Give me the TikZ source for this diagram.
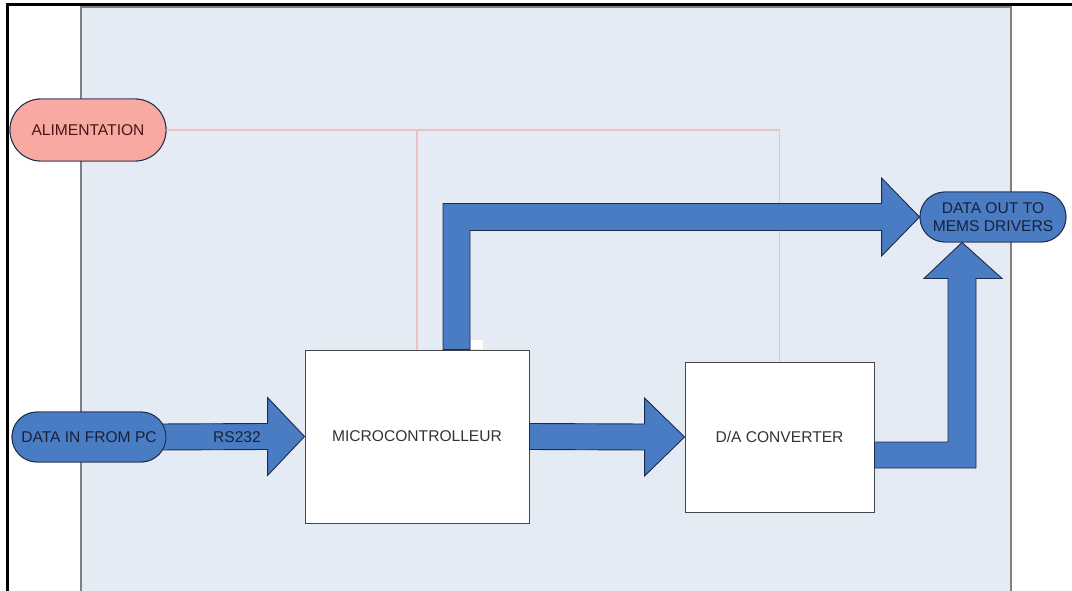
\documentclass[tikz,border=0pt]{standalone}
\usepackage{fontspec}
\setmainfont{Liberation Sans}
\usetikzlibrary{shapes.misc,calc}
\definecolor{panelfill}{HTML}{E5EBF5}
\definecolor{panelline}{HTML}{808080}
\definecolor{blockblue}{HTML}{4A7CC3}
\definecolor{blockline}{HTML}{1C2B4A}
\definecolor{pinkfill}{HTML}{F8A9A2}
\definecolor{pinkline}{HTML}{EDC0C6}
\definecolor{txt}{HTML}{333333}
\definecolor{alimtxt}{HTML}{4A1515}
\definecolor{bluetxt}{HTML}{17223A}
\begin{document}
\begin{tikzpicture}[x=1pt,y=-1pt,
  lbl/.style={font=\fontsize{15.6}{18.5}\selectfont, text=txt},
  pill/.style={rounded rectangle, draw=blockline, line width=0.9pt, inner sep=0pt,
    font=\fontsize{15.6}{18.5}\selectfont, align=center},
  box/.style={draw=txt!90, line width=0.9pt, fill=white, inner sep=0pt,
    font=\fontsize{15.6}{18.5}\selectfont, text=txt},
  blockarrow/.style={fill=blockblue, draw=blockline, line width=0.9pt, line join=miter},
  feed/.style={draw=pinkline, line width=1.3pt}]
\clip (0,0) rectangle (1072,591);
\fill[white] (0,0) rectangle (1072,591);
% frame and panel
\draw[panelline, fill=panelfill, line width=1.6pt] (81,7) rectangle (1011,640);
\draw[black, line width=3pt] (7.5,600) -- (7.5,5) -- (1080,5);
% blocks
\node[box, minimum width=224pt, minimum height=173pt] (micro) at (417,436.5) {MICROCONTROLLEUR};
\node[box, minimum width=189pt, minimum height=150pt] (da) at (779.5,437) {D/A CONVERTER};
% node placeholders for pills (drawn later on top)
\path (88,130) node[pill, minimum width=156pt, minimum height=62pt] (alim) {\phantom{ALIMENTATION}};
\path (89,437) node[pill, minimum width=154pt, minimum height=50pt] (pc) {\phantom{DATA IN FROM PC}};
\path (993,217) node[pill, minimum width=146pt, minimum height=50pt] (out) {\phantom{DATA OUT TO}\\\phantom{MEMS DRIVERS}};
% power feed lines
\draw[feed] (alim.east) -| (da.north);
\draw[feed] (micro.north) -- (micro.north |- alim.east);
% RS232 arrow
\draw[blockarrow] ($(pc.east)+(-10,-13)$) -- ($(micro.west)+(-37,-13)$) -- ($(micro.west)+(-37,-39)$)
  -- (micro.west) -- ($(micro.west)+(-37,39)$) -- ($(micro.west)+(-37,13)$) -- ($(pc.east)+(-10,13)$) -- cycle;
\node[lbl, text=bluetxt] (rs) at (237,437) {RS232};
% micro -> D/A arrow
\draw[blockarrow] ($(micro.east)+(0,-13)$) -- ($(da.west)+(-40,-13)$) -- ($(da.west)+(-40,-39)$)
  -- (da.west) -- ($(da.west)+(-40,39)$) -- ($(da.west)+(-40,13)$) -- ($(micro.east)+(0,13)$) -- cycle;
% D/A -> out arrow
\coordinate (t2) at ($(out.south)+(-31,0)$);
\draw[blockarrow] ($(da.east)+(0,5)$) -- ($(t2|-da.east)+(-14,5)$) -- ($(t2)+(-14,36)$) -- ($(t2)+(-38,36)$)
  -- (t2) -- ($(t2)+(40,36)$) -- ($(t2)+(14,36)$) -- ($(t2|-da.east)+(14,31)$) -- ($(da.east)+(0,31)$) -- cycle;
% micro -> out arrow
\coordinate (s3) at ($(micro.north)+(39.5,0)$);
\draw[blockarrow] ($(s3)+(-13.5,0)$) -- ($(s3|-out.west)+(-13.5,-13.5)$) -- ($(out.west)+(-38,-13.5)$)
  -- ($(out.west)+(-38,-39)$) -- (out.west) -- ($(out.west)+(-38,39)$) -- ($(out.west)+(-38,13.5)$)
  -- ($(s3|-out.west)+(13.5,13.5)$) -- ($(s3)+(13.5,0)$) -- cycle;
\fill[white] ($(s3)+(14,-10)$) rectangle ($(s3)+(26,-0.5)$);
% pills on top
\node[pill, fill=pinkfill, minimum width=156pt, minimum height=62pt, text=alimtxt] at (alim) {ALIMENTATION};
\node[pill, fill=blockblue, minimum width=154pt, minimum height=50pt, text=bluetxt] at (pc) {DATA IN FROM PC};
\node[pill, fill=blockblue, minimum width=146pt, minimum height=50pt, text=bluetxt] at (out) {DATA OUT TO\\MEMS DRIVERS};
\end{tikzpicture}
\end{document}
